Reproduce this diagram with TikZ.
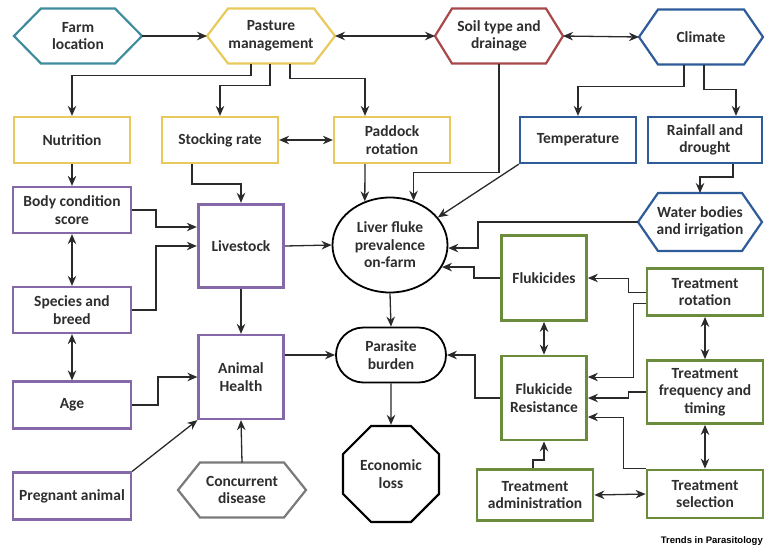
\documentclass[tikz,border=0pt]{standalone}
\usepackage{fontspec}
\setmainfont{Carlito}
\newfontfamily\trendsfont{Liberation Sans}
\usetikzlibrary{arrows.meta,shapes.geometric,shapes.misc,calc}
\definecolor{cteal}{HTML}{3E8C9E}
\definecolor{cyel}{HTML}{EAC95C}
\definecolor{cred}{HTML}{A84848}
\definecolor{cblue}{HTML}{2E5B9A}
\definecolor{cpur}{HTML}{8568A8}
\definecolor{cgreen}{HTML}{6A8C3C}
\definecolor{cgray}{HTML}{7A7A7A}
\definecolor{ctext}{HTML}{2E2E2E}
\definecolor{cline}{HTML}{2A2A2A}
\newcommand\hexdraw[3]{\draw[line width=2.2pt, draw=#3, line join=miter]
  (#1.west) -- ([xshift=#2pt]#1.north west) -- ([xshift=-#2pt]#1.north east) -- (#1.east)
  -- ([xshift=-#2pt]#1.south east) -- ([xshift=#2pt]#1.south west) -- cycle;}
\begin{document}
\begin{tikzpicture}[x=1pt,y=-1pt,
  base/.style={font=\fontsize{15.5}{17.5}\selectfont\bfseries, text=ctext, align=center, inner sep=1pt, line width=2.2pt},
  boxnode/.style={base, rectangle, draw},
  hexnode/.style={base, rectangle, outer sep=0pt},
  arr/.style={-{Stealth[length=10pt,width=8.5pt]}, line width=1.3pt, draw=cline},
  darr/.style={{Stealth[length=10pt,width=8.5pt]}-{Stealth[length=10pt,width=8.5pt]}, line width=1.3pt, draw=cline},
  thinarr/.style={arr, line width=0.9pt}
]
\useasboundingbox (0,0) rectangle (764,550);
% top row
\node[hexnode, minimum width=128pt, minimum height=55pt] (farm) at (78,36) {Farm\\location};
\node[hexnode, minimum width=128pt, minimum height=55pt] (past) at (271,36) {Pasture\\management};
\node[hexnode, minimum width=128pt, minimum height=55pt] (soil) at (499,36) {Soil type and\\drainage};
\node[hexnode, minimum width=124pt, minimum height=55pt] (clim) at (701,37) {Climate};
\hexdraw{farm}{27}{cteal}
\hexdraw{past}{21}{cyel}
\hexdraw{soil}{17}{cred}
\hexdraw{clim}{19}{cblue}
% second row
\node[boxnode, draw=cyel, minimum width=116pt, minimum height=46pt] (nut) at (72,140) {Nutrition};
\node[boxnode, draw=cyel, minimum width=116pt, minimum height=46pt] (stock) at (220,140) {Stocking rate};
\node[boxnode, draw=cyel, minimum width=116pt, minimum height=46pt] (padd) at (392,140) {Paddock\\rotation};
\node[boxnode, draw=cblue, minimum width=116pt, minimum height=46pt] (temp) at (578,140) {Temperature};
\node[boxnode, draw=cblue, minimum width=114pt, minimum height=46pt] (rain) at (705,140) {Rainfall and\\drought};
\node[hexnode, minimum width=124pt, minimum height=58pt] (water) at (700,222) {Water bodies\\and irrigation};
\hexdraw{water}{20}{cblue}
% left column
\node[boxnode, draw=cpur, minimum width=118pt, minimum height=46pt] (bcs) at (72,210) {Body condition\\score};
\node[boxnode, draw=cpur, minimum width=118pt, minimum height=46pt] (spec) at (72,310) {Species and\\breed};
\node[boxnode, draw=cpur, minimum width=118pt, minimum height=47pt] (age) at (72,405) {Age};
\node[boxnode, draw=cpur, minimum width=118pt, minimum height=47pt] (preg) at (72,496) {Pregnant animal};
% livestock column
\node[boxnode, draw=cpur, line width=3.4pt, minimum width=85pt, minimum height=83pt] (live) at (241,246) {Livestock};
\node[boxnode, draw=cpur, minimum width=85pt, minimum height=84pt] (ah) at (241,377) {Animal\\Health};
\node[hexnode, minimum width=128pt, minimum height=55pt] (conc) at (242,490) {Concurrent\\disease};
\hexdraw{conc}{22}{cgray}
% centre column
\node[base, ellipse, draw=black, line width=1.8pt, minimum width=115pt, minimum height=95pt, inner sep=0pt] (liver) at (390,245) {Liver fluke\\prevalence\\on-farm};
\node[base, rounded rectangle, draw=black, line width=1.8pt, minimum width=112pt, minimum height=55pt] (para) at (391,355) {Parasite\\burden};
\node[base, regular polygon, regular polygon sides=8, draw=black, line width=2.2pt, minimum size=104pt, inner sep=0pt] (econ) at (391,474) {Economic\\loss};
% green cluster
\node[boxnode, draw=cgreen, line width=2.8pt, minimum width=85pt, minimum height=85pt] (fluk) at (544,278) {Flukicides};
\node[boxnode, draw=cgreen, line width=2.8pt, minimum width=85pt, minimum height=84pt] (fr) at (544,398) {Flukicide\\Resistance};
\node[boxnode, draw=cgreen, line width=2.8pt, minimum width=116pt, minimum height=47pt] (trot) at (705,292) {Treatment\\rotation};
\node[boxnode, draw=cgreen, line width=2.8pt, minimum width=116pt, minimum height=63pt] (tft) at (705,392) {Treatment\\frequency and\\timing};
\node[boxnode, draw=cgreen, line width=2.8pt, minimum width=116pt, minimum height=48pt] (tsel) at (705,494) {Treatment\\selection};
\node[boxnode, draw=cgreen, line width=2.8pt, minimum width=116pt, minimum height=51pt] (tadm) at (535,495) {Treatment\\administration};
\node[anchor=east, inner sep=0pt, text=black, font=\trendsfont\bfseries\fontsize{9.5}{11}\selectfont] (trends) at (763,541) {Trends in Parasitology};
% connectors top
\draw[arr] (farm.east) -- (past.west);
\draw[darr] (past.east) -- (soil.west);
\draw[darr] (soil.east) -- (clim.west);
\draw[arr] ([xshift=-20pt]past.south) -- ++(0,12) -| (nut.north);
\draw[arr] ([xshift=-1pt]past.south) -- ++(0,22) -| (stock.north);
\draw[arr] ([xshift=19pt]past.south) -- ++(0,15) -| ([xshift=-27pt]padd.north);
\draw[darr] (stock.east) -- (padd.west);
\draw[arr] ([xshift=-17pt]clim.south) -- ++(0,22) -| (temp.north);
\draw[arr] ([xshift=3pt]clim.south) -- ++(0,25) -| ([xshift=31pt]rain.north);
\draw[arr] ([xshift=28pt]rain.south) -- ++(0,13) -| (water.north);
% into liver fluke
\draw[arr] ([xshift=-27pt]padd.south) -- (liver.120);
\draw[arr] (soil.south) -- ++(0,109) -| (liver.62);
\draw[arr] (temp.south west) -- (liver.30);
\draw[arr] (water.west) -- ++(-160,0) |- (liver.-3);
\draw[arr] (fluk.west) -- ++(-26,0) |- (liver.-23);
\draw[arr] (live.east) -- (liver.west);
% left column
\draw[arr] (nut.south) -- (bcs.north);
\draw[arr] ([xshift=-28pt]stock.south) -- ++(0,20) -| (live.north);
\draw[arr] (bcs.east) -- ++(24,0) |- ([yshift=19pt]live.west);
\draw[arr] (spec.east) -- ++(24,0) |- (live.west);
\draw[darr] (bcs.south) -- (spec.north);
\draw[darr] (spec.south) -- (age.north);
\draw[arr] (live.south) -- (ah.north);
\draw[arr] (age.east) -- ++(26,0) |- (ah.west);
\draw[arr] (preg.north east) -- (ah.south west);
\draw[arr] (conc.north) -- (ah.south);
\draw[arr] (ah.east |- para.west) -- (para.west);
% centre
\draw[arr] (liver.south) -- (para.north);
\draw[arr] (para.south) -- (econ.north);
% green cluster
\draw[darr] (fluk.south) -- (fr.north);
\draw[arr] (fr.west) -- ++(-25,0) |- (para.east);
\draw[thinarr] (trot.west) -- ++(-17,0) |- (fluk.east);
\draw[thinarr] ([yshift=-11pt]trot.west) -- ++(-12,0) |- ([yshift=21pt]fr.east);
\draw[arr] (tft.west) -- ++(-17,0) |- (fr.east);
\draw[thinarr] (tsel.north west) -- ++(-22,0) |- ([yshift=-19pt]fr.east);
\draw[arr] ([xshift=-2pt]tadm.north) -- ++(0,-8) -| (fr.south);
\draw[darr] (tadm.east) -- (tsel.west);
\draw[darr] (trot.south) -- (tft.north);
\draw[darr] (tft.south) -- (tsel.north);
\end{tikzpicture}
\end{document}
